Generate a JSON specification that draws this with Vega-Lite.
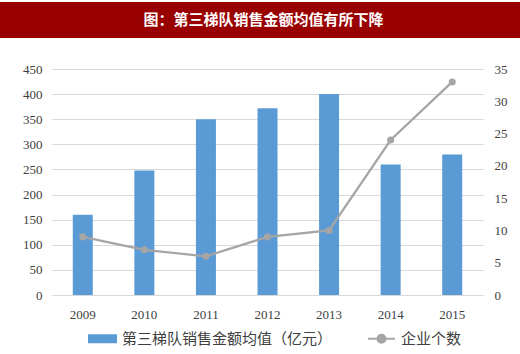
{
  "$schema": "https://vega.github.io/schema/vega-lite/v6.json",
  "padding": {"left": 0, "top": 2, "right": 0, "bottom": 0},
  "background": "white",
  "spacing": 31,
  "center": true,
  "bounds": "flush",
  "config": {
    "view": {"stroke": null},
    "font": "Noto Sans CJK SC"
  },
  "vconcat": [
    {
      "width": 535,
      "height": 36,
      "view": {"fill": "#990000", "stroke": null},
      "data": {"values": [{"title": "图：第三梯队销售金额均值有所下降"}]},
      "mark": {"type": "text", "color": "white", "font": "Noto Sans CJK SC", "fontSize": 15, "fontWeight": "bold", "align": "center", "baseline": "middle", "dx": -4},
      "encoding": {"text": {"field": "title", "type": "nominal"}}
    },
    {
      "width": 431,
      "height": 226,
      "data": {
        "values": [
          {"year": "2009", "sales": 160, "count": 9},
          {"year": "2010", "sales": 248, "count": 7},
          {"year": "2011", "sales": 350, "count": 6},
          {"year": "2012", "sales": 372, "count": 9},
          {"year": "2013", "sales": 400, "count": 10},
          {"year": "2014", "sales": 260, "count": 24},
          {"year": "2015", "sales": 280, "count": 33}
        ]
      },
      "encoding": {
        "x": {
          "field": "year",
          "type": "ordinal",
          "title": null,
          "scale": {"paddingInner": 0.675, "paddingOuter": 0.3375},
          "axis": {"labelAngle": 0, "domain": false, "ticks": false, "labelFont": "Liberation Serif", "labelFontSize": 13, "labelColor": "#404040", "labelPadding": 13}
        }
      },
      "layer": [
        {
          "mark": {"type": "bar"},
          "encoding": {
            "y": {
              "field": "sales",
              "type": "quantitative",
              "title": null,
              "scale": {"domain": [0, 450]},
              "axis": {"values": [0, 50, 100, 150, 200, 250, 300, 350, 400, 450], "domain": false, "ticks": false, "gridColor": "#d9d9d9", "gridWidth": 1, "labelFont": "Liberation Serif", "labelFontSize": 13, "labelColor": "#404040", "labelPadding": 10}
            },
            "color": {
              "datum": "第三梯队销售金额均值（亿元）",
              "scale": {"domain": ["第三梯队销售金额均值（亿元）", "企业个数"], "range": ["#5b9bd5", "#a5a5a5"]},
              "legend": {
                "title": null,
                "orient": "none",
                "legendX": 88,
                "legendY": 322,
                "direction": "horizontal",
                "symbolSize": 729,
                "labelFont": "Noto Sans CJK SC",
                "labelFontSize": 15,
                "labelLimit": 400,
                "labelColor": "#404040",
                "labelOffset": 5,
                "columnPadding": 31,
                "encode": {
                  "symbols": {
                    "update": {
                      "shape": {"signal": "datum.value === '企业个数' ? 'M-1,0H1M-0.3,0A0.3,0.3,0,1,1,0.3,0A0.3,0.3,0,1,1,-0.3,0Z' : 'M-1,-0.26H1V0.26H-1Z'"},
                      "strokeWidth": {"value": 2}
                    }
                  }
                }
              }
            }
          }
        },
        {
          "mark": {"type": "line", "strokeWidth": 2.25, "point": {"size": 50, "filled": true}},
          "encoding": {
            "y": {
              "field": "count",
              "type": "quantitative",
              "title": null,
              "scale": {"domain": [0, 35]},
              "axis": {"orient": "right", "values": [0, 5, 10, 15, 20, 25, 30, 35], "grid": false, "domain": false, "ticks": false, "labelFont": "Liberation Serif", "labelFontSize": 13, "labelColor": "#404040", "labelPadding": 11}
            },
            "color": {"datum": "企业个数"}
          }
        }
      ],
      "resolve": {"scale": {"y": "independent"}}
    }
  ]
}
